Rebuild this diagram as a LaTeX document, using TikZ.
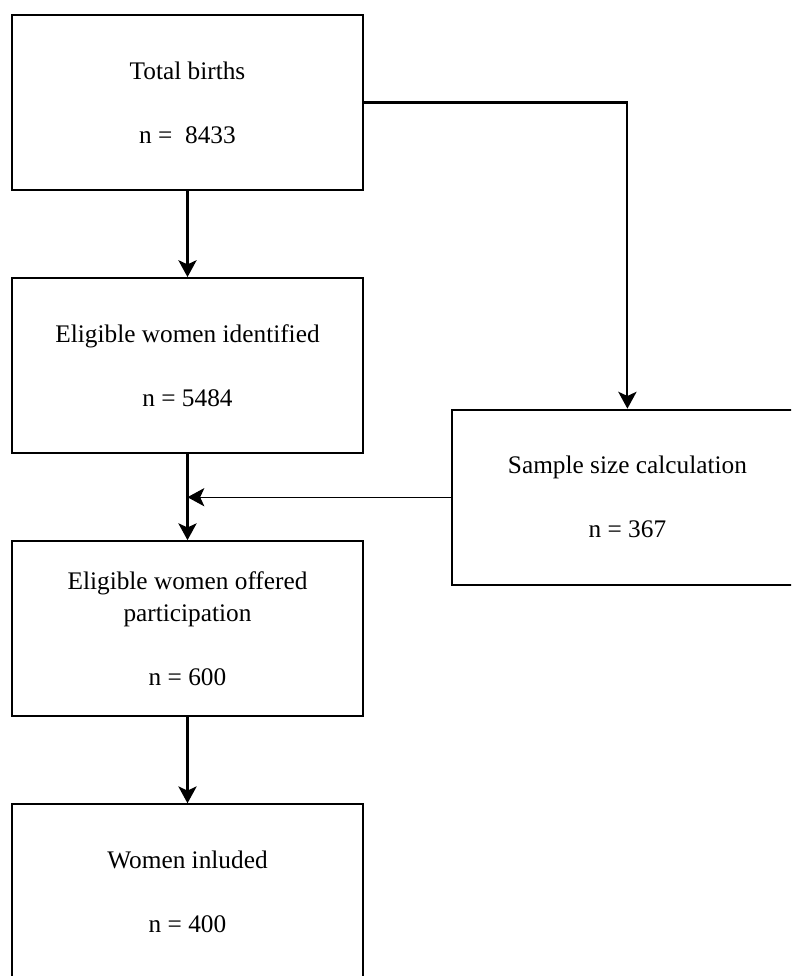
\documentclass[tikz,border=0pt]{standalone}
\usepackage{fontspec}
\setmainfont{Liberation Serif}
\usepackage{tikz}
\usetikzlibrary{positioning, arrows.meta}

\begin{document}
\begin{tikzpicture}[
    box/.style={
        draw, line width=1.5pt,
        align=center, inner sep=5pt,
        minimum width=8.775cm, minimum height=4.375cm,
        font=\fontsize{18}{22.8}\selectfont,
    },
    flow/.style={
        ->, line width=1.5pt,
        >={Stealth[length=12pt, width=13pt, inset=3pt]},
    },
    side/.style={
        flow, line width=0.8pt,
    },
    node distance=2.15cm,
]

%--- Frame of the picture ---
\clip (0,0) rectangle (19.775,-24.4);

%--- Main column ---
\node[box] (births) at (4.6875,-2.5625) {Total births\\[22.8pt]n = \ 8433};
\node[box, below=of births] (eligible) {Eligible women identified\\[22.8pt]n = 5484};
\node[box, below=of eligible] (offered) {Eligible women offered\\participation\\[22.8pt]n = 600};
\node[box, below=of offered] (included) {Women inluded\\[22.8pt]n = 400};

%--- Side box ---
\node[box, right=2.17cm of eligible, yshift=-3.29cm] (sample) {Sample size calculation\\[22.8pt]n = 367};

%--- Connectors ---
\draw[flow] (births) -- (eligible);
\draw[flow] (eligible) -- (offered);
\draw[flow] (offered) -- (included);
\draw[flow] (births.east) -| (sample.north);

% sample size joins the main flow
\draw[side] (sample.west) -- (sample.west -| eligible.south);

\end{tikzpicture}
\end{document}
